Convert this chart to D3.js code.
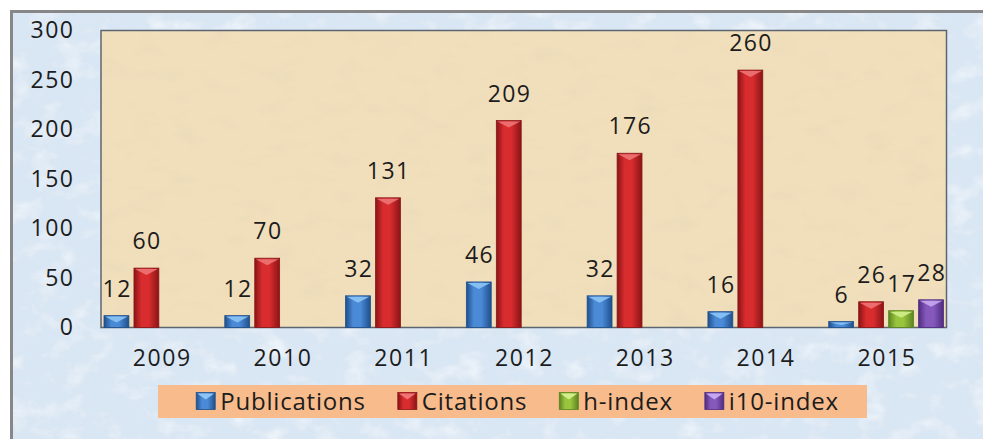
<!DOCTYPE html>
<html lang="en">
<head>
  <meta charset="UTF-8">
  <title>Publications and Citations 2009-2015</title>
  <script src="https://d3js.org/d3.v7.min.js"></script>
  <style>
    body { margin: 0; background: #fff; }
    text { font-family: "Open Sans", "DejaVu Sans", sans-serif; fill: #1c1c1c; }
  </style>
</head>
<body>
  <div id="chart"></div>

  <script>
    // data
    const years = ["2009", "2010", "2011", "2012", "2013", "2014", "2015"];
    const seriesNames = ["Publications", "Citations", "h-index", "i10-index"];
    const publications = [12, 12, 32, 46, 32, 16, 6];
    const citations = [60, 70, 131, 209, 176, 260, 26];
    const hIndex = [null, null, null, null, null, null, 17];
    const i10Index = [null, null, null, null, null, null, 28];
    const yTicks = [0, 50, 100, 150, 200, 250, 300];

    const seriesValues = [publications, citations, hIndex, i10Index];

    // colours for each series: edge, middle, top bevel
    const palette = {
      "Publications": { edge: "#1f4f8c", mid: "#4a8ad6", top: "#8cc4f4" },
      "Citations": { edge: "#8a1416", mid: "#d82c2e", top: "#ee7476" },
      "h-index": { edge: "#5b8420", mid: "#98c43e", top: "#d2ee8a" },
      "i10-index": { edge: "#4f2c80", mid: "#8559bc", top: "#c6a6f0" }
    };

    const W = 983, H = 439;
    const plot = { left: 101, right: 946.5, top: 30.5, bottom: 327.5 };
    const fontStack = "'Open Sans', 'DejaVu Sans', sans-serif";

    const svg = d3.select("#chart").append("svg")
      .attr("width", W)
      .attr("height", H);

    const defs = svg.append("defs");

    // mottled texture for the backgrounds
    const tex = defs.append("filter").attr("id", "mottle")
      .attr("x", 0).attr("y", 0).attr("width", 1).attr("height", 1);
    tex.append("feTurbulence")
      .attr("type", "fractalNoise")
      .attr("baseFrequency", "0.035 0.05")
      .attr("numOctaves", 4)
      .attr("seed", 7);
    tex.append("feColorMatrix")
      .attr("type", "matrix")
      .attr("values", "0 0 0 0 1  0 0 0 0 1  0 0 0 0 1  0 0 0 1.8 -0.9");

    const tex2 = defs.append("filter").attr("id", "mottle2")
      .attr("x", 0).attr("y", 0).attr("width", 1).attr("height", 1);
    tex2.append("feTurbulence")
      .attr("type", "fractalNoise")
      .attr("baseFrequency", "0.03 0.06")
      .attr("numOctaves", 4)
      .attr("seed", 3);
    tex2.append("feColorMatrix")
      .attr("type", "matrix")
      .attr("values", "0 0 0 0 0.78  0 0 0 0 0.66  0 0 0 0 0.45  0 0 0 1.6 -0.8");

    seriesNames.forEach((s, i) => {
      const g = defs.append("linearGradient")
        .attr("id", "grad" + i)
        .attr("x1", "0%").attr("x2", "100%")
        .attr("y1", "0%").attr("y2", "0%");
      g.append("stop").attr("offset", "0%").attr("stop-color", palette[s].edge);
      g.append("stop").attr("offset", "30%").attr("stop-color", palette[s].mid);
      g.append("stop").attr("offset", "60%").attr("stop-color", palette[s].mid);
      g.append("stop").attr("offset", "100%").attr("stop-color", palette[s].edge);
    });

    // outer background with frame on top and left
    svg.append("rect")
      .attr("x", 10).attr("y", 10)
      .attr("width", W - 10).attr("height", H - 10)
      .attr("fill", "#d9e6f3");
    svg.append("rect")
      .attr("x", 10).attr("y", 10)
      .attr("width", W - 10).attr("height", H - 10)
      .attr("filter", "url(#mottle)")
      .attr("opacity", 0.75);
    svg.append("path")
      .attr("d", `M11.5,${H} V11.5 H${W}`)
      .attr("fill", "none")
      .attr("stroke", "#878787")
      .attr("stroke-width", 3);

    // plot area
    svg.append("rect")
      .attr("x", plot.left).attr("y", plot.top)
      .attr("width", plot.right - plot.left)
      .attr("height", plot.bottom - plot.top)
      .attr("fill", "#f1dfbc");
    svg.append("rect")
      .attr("x", plot.left).attr("y", plot.top)
      .attr("width", plot.right - plot.left)
      .attr("height", plot.bottom - plot.top)
      .attr("filter", "url(#mottle2)")
      .attr("opacity", 0.55);
    svg.append("rect")
      .attr("x", plot.left).attr("y", plot.top)
      .attr("width", plot.right - plot.left)
      .attr("height", plot.bottom - plot.top)
      .attr("fill", "none")
      .attr("stroke", "#5d6670")
      .attr("stroke-width", 1.5);

    // scales
    const x0 = d3.scaleBand()
      .domain(years)
      .range([plot.left, plot.right])
      .padding(0);

    const x1 = d3.scaleBand()
      .domain(seriesNames)
      .range([0, x0.bandwidth()])
      .paddingInner(0.17)
      .paddingOuter(0.1);

    const y = d3.scaleLinear()
      .domain([0, 300])
      .range([plot.bottom, plot.top]);

    // y axis labels
    const yAxis = svg.append("g")
      .attr("transform", `translate(${plot.left - 26.5},0)`)
      .call(d3.axisLeft(y).tickValues(yTicks).tickSize(0).tickPadding(0));
    yAxis.select(".domain").remove();
    yAxis.selectAll("text")
      .attr("font-size", 23)
      .attr("letter-spacing", 1.5)
      .style("font-family", fontStack)
      .attr("fill", "#1c1c1c");

    // x axis labels
    const xAxis = svg.append("g")
      .attr("transform", `translate(0.8,${plot.bottom + 28})`)
      .call(d3.axisBottom(x0).tickSize(0).tickPadding(0));
    xAxis.select(".domain").remove();
    xAxis.selectAll("text")
      .attr("font-size", 23)
      .attr("letter-spacing", 1.6)
      .attr("dy", "0.45em")
      .style("font-family", fontStack)
      .attr("fill", "#1c1c1c");

    // bars
    const rows = [];
    years.forEach((yr, i) => {
      seriesNames.forEach((s, j) => {
        const v = seriesValues[j][i];
        if (v != null) rows.push({ year: yr, series: s, idx: j, value: v });
      });
    });

    const groups = svg.selectAll(".bar")
      .data(rows)
      .enter().append("g")
      .attr("class", "bar")
      .attr("transform", d => `translate(${x0(d.year) + x1(d.series)},0)`);

    const bw = x1.bandwidth();

    groups.append("rect")
      .attr("x", 0)
      .attr("y", d => y(d.value))
      .attr("width", bw)
      .attr("height", d => plot.bottom - y(d.value))
      .attr("fill", d => `url(#grad${d.idx})`)
      .attr("stroke", d => palette[d.series].edge)
      .attr("stroke-width", 0.8);

    // top bevel: lighter v-shape
    groups.append("path")
      .attr("d", d => {
        const t = y(d.value);
        const h = Math.min(7, (plot.bottom - t) * 0.6);
        return `M1,${t + 1} H${bw - 1} L${bw / 2},${t + h} Z`;
      })
      .attr("fill", d => palette[d.series].top)
      .attr("opacity", 0.9);

    // value labels
    groups.append("text")
      .attr("x", bw / 2 + 0.7)
      .attr("y", d => y(d.value) - 19)
      .attr("text-anchor", "middle")
      .attr("font-size", 23)
      .attr("letter-spacing", 1.4)
      .text(d => d.value);

    // legend
    const legendBox = { x: 158, y: 385, w: 709, h: 33 };
    const legend = svg.append("g");
    legend.append("rect")
      .attr("x", legendBox.x).attr("y", legendBox.y)
      .attr("width", legendBox.w).attr("height", legendBox.h)
      .attr("fill", "#f8bb8b");

    const items = legend.selectAll(".item")
      .data(seriesNames)
      .enter().append("g")
      .attr("class", "item");

    items.append("rect")
      .attr("x", 0).attr("y", -9)
      .attr("width", 19).attr("height", 17)
      .attr("fill", (d, i) => `url(#grad${i})`)
      .attr("stroke", d => palette[d].edge)
      .attr("stroke-width", 0.8);
    items.append("path")
      .attr("d", "M1,-8 H18 L9.5,-2 Z")
      .attr("fill", d => palette[d].top);
    items.append("text")
      .attr("x", 24)
      .attr("y", 0)
      .attr("dy", "0.36em")
      .attr("font-size", 24)
      .attr("letter-spacing", 0.8)
      .text(d => d);

    // lay legend items side by side, centred in the box
    const widths = [];
    items.each(function () { widths.push(this.getBBox().width); });
    const gap = 32;
    const total = d3.sum(widths) + gap * (widths.length - 1);
    let cx = legendBox.x + (legendBox.w - total) / 2 + 5;
    items.attr("transform", (d, i) => {
      const t = `translate(${cx},${legendBox.y + legendBox.h / 2})`;
      cx += widths[i] + gap;
      return t;
    });
  </script>
</body>
</html>
